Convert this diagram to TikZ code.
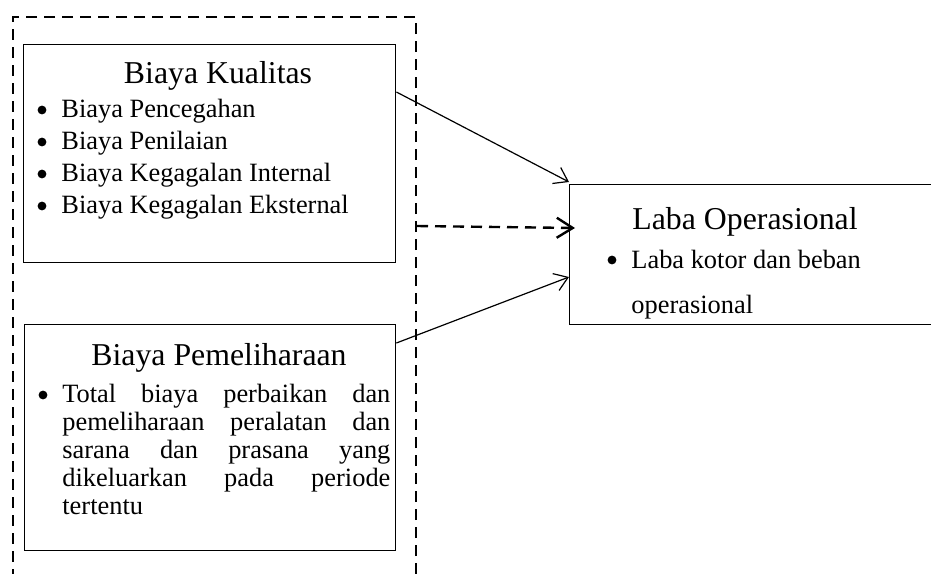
\documentclass[tikz,border=0pt]{standalone}
\usepackage{fontspec}
\setmainfont{Liberation Serif}
\usetikzlibrary{arrows.meta}
\begin{document}
\begin{tikzpicture}[x=0.5pt,y=-0.5pt,
  box/.style={draw, line width=0.7pt, inner sep=0pt, anchor=north west},
  grpbox/.style={draw, line width=1pt, dash pattern=on 5.5pt off 3.5pt, inner sep=0pt, anchor=north west},
  ttl/.style={font=\fontsize{15.9}{18}\selectfont, anchor=base, inner sep=0pt},
  itm/.style={font=\fontsize{13.2}{15}\selectfont, anchor=base west, inner sep=0pt},
  bul/.style={circle, fill, inner sep=0pt, minimum size=4.4pt},
  conn/.style={line width=0.6pt, -{Straight Barb[length=6.5pt,width=9pt]}},
  dconn/.style={line width=1.2pt, dash pattern=on 5.5pt off 3.5pt, -{Straight Barb[length=8pt,width=10pt]}}]
\clip (0,0) rectangle (931,573);
% dashed group frame
\node[grpbox, minimum width=201.5pt, minimum height=302pt] (grp) at (12,16) {};
% boxes
\node[box, minimum width=186pt, minimum height=109pt] (b1) at (23,44) {};
\node[box, minimum width=185.5pt, minimum height=113pt] (b2) at (24,324) {};
\node[box, minimum width=190pt, minimum height=70pt] (b3) at (569,184) {};
% box 1 text
\node[ttl] (t1) at (218,83) {Biaya Kualitas};
\node[bul] (p1) at (42,110) {};
\node[itm] (i1) at (61,117) {Biaya Pencegahan};
\node[bul] (p2) at (42,142) {};
\node[itm] (i2) at (61,149) {Biaya Penilaian};
\node[bul] (p3) at (42,174) {};
\node[itm] (i3) at (61,181) {Biaya Kegagalan Internal};
\node[bul] (p4) at (42,206) {};
\node[itm] (i4) at (61,213) {Biaya Kegagalan Eksternal};
% box 2 text
\node[ttl] (t2) at (219,365) {Biaya Pemeliharaan};
\node[bul] (p5) at (43,395) {};
\node[itm] (j1) at (62,402) {\makebox[164pt][s]{Total biaya perbaikan dan}};
\node[itm] (j2) at (62,430) {\makebox[164pt][s]{pemeliharaan peralatan dan}};
\node[itm] (j3) at (62,458) {\makebox[164pt][s]{sarana dan prasana yang}};
\node[itm] (j4) at (62,486) {\makebox[164pt][s]{dikeluarkan pada periode}};
\node[itm] (j5) at (62,514) {tertentu};
% box 3 text
\node[ttl] (t3) at (745,229) {Laba Operasional};
\node[bul] (p6) at (612,260) {};
\node[itm] (k1) at (631,268) {Laba kotor dan beban};
\node[itm] (k2) at (631,313) {operasional};
% connectors
\draw[conn] ([yshift=-24pt]b1.north east) -- ([yshift=1pt]b3.north west);
\draw[conn] ([yshift=-9.5pt]b2.north east) -- ([yshift=-46.5pt]b3.north west);
\draw[dconn] ([yshift=-105pt]grp.north east) -- ([xshift=3pt,yshift=-22pt]b3.north west);
\end{tikzpicture}
\end{document}
